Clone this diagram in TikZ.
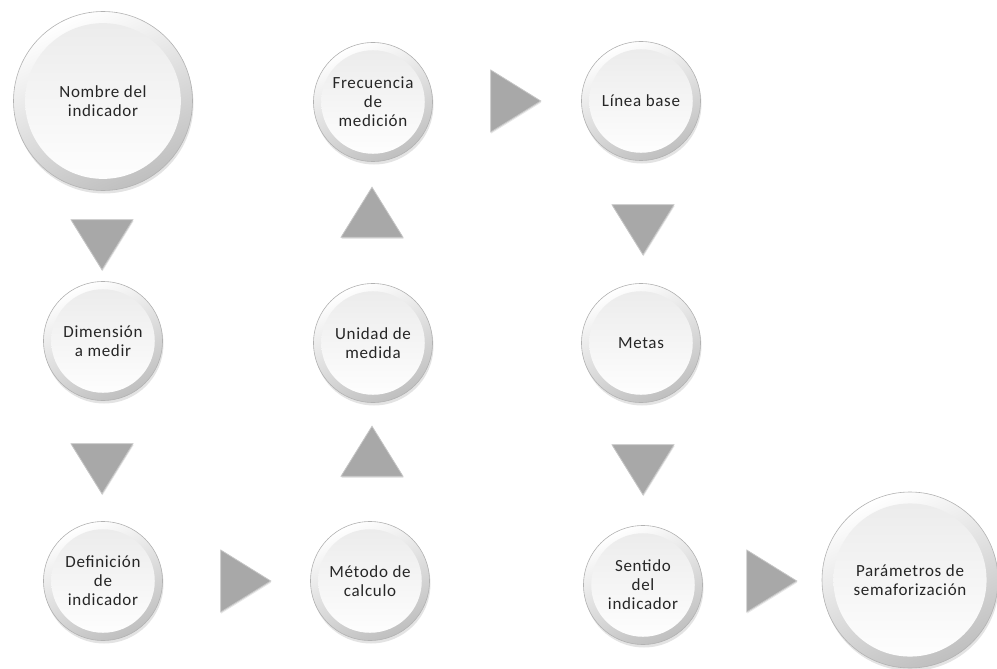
\documentclass[tikz,border=0pt]{standalone}
\usepackage{fontspec}
\newfontfamily\bubblefont[LetterSpace=4]{Carlito}
\usetikzlibrary{shapes.geometric,shadows}
\tikzset{
    bubble/.style={circle, draw=gray!60, line width=.6pt, minimum size=#1,
        inner sep=0pt, top color=white, bottom color=gray!50, shading angle=25,
        drop shadow={opacity=.22, shadow xshift=1pt, shadow yshift=-3pt},
        align=center, text=black!85,
        font=\bubblefont\fontsize{17}{19}\selectfont,
        path picture={\shade[top color=gray!16, bottom color=white]
            (path picture bounding box.center) circle (.435*#1);}},
    bubble/.default=119pt
}
\tikzset{
    chevron/.style={isosceles triangle, isosceles triangle stretches,
        minimum width=62pt, minimum height=50pt, inner sep=0pt,
        fill=gray!68, draw=gray!45, line width=.8pt, shape border rotate=#1,
        drop shadow={opacity=.2, shadow xshift=.5pt, shadow yshift=-1.5pt}}
}

\begin{document}
\begin{tikzpicture}[x=1pt, y=-1pt]
  \useasboundingbox (0, 0) rectangle (997, 669);

  \node (nombre) [bubble=179pt] at (103, 101) {Nombre del\\indicador};
  \node (dimension) [bubble] at (103, 341) {Dimensión\\a medir};
  \node (definicion) [bubble] at (103, 581) {Definición\\de\\indicador};
  \node (metodo) [bubble] at (370, 581) {Método de\\calculo};
  \node (unidad) [bubble] at (373, 343) {Unidad de\\medida};
  \node (frecuencia) [bubble] at (373, 102) {Frecuencia\\de\\medición};
  \node (linea) [bubble] at (641, 101) {Línea base};
  \node (metas) [bubble] at (641, 343) {Metas};
  \node (sentido) [bubble] at (643, 585) {Sentido\\del\\indicador};
  \node (parametros) [bubble=176pt] at (910, 580) {Parámetros de\\semaforización};

  \node (c1) [chevron=270] at (102, 237) {};
  \node (c2) [chevron=270] at (102, 461) {};
  \node (c3) [chevron=0] at (238, 581) {};
  \node (c4) [chevron=90] at (372, 459) {};
  \node (c5) [chevron=90] at (372, 220) {};
  \node (c6) [chevron=0] at (508, 101) {};
  \node (c7) [chevron=270] at (643, 222) {};
  \node (c8) [chevron=270] at (643, 462) {};
  \node (c9) [chevron=0] at (764, 581) {};
\end{tikzpicture}
\end{document}
